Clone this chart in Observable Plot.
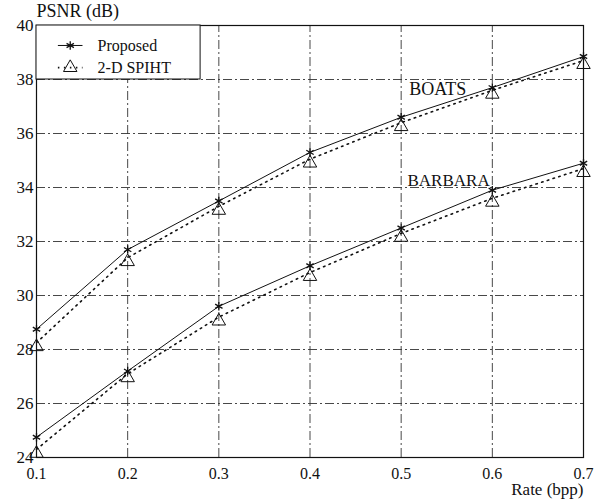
<!DOCTYPE html>
<html>
<head>
<meta charset="utf-8">
<script src="https://cdn.jsdelivr.net/npm/d3@7"></script>
<script src="https://cdn.jsdelivr.net/npm/@observablehq/plot@0.6"></script>
<style>
  html, body { margin: 0; padding: 0; background: #fff; }
  #chart svg { display: block; }
</style>
</head>
<body>
<div id="chart"></div>
<script>
const rates = [0.1, 0.2, 0.3, 0.4, 0.5, 0.6, 0.7];
const boatsProposed = [28.75, 31.7, 33.5, 35.3, 36.6, 37.7, 38.85];
const boatsSpiht = [28.25, 31.4, 33.3, 35.05, 36.4, 37.6, 38.7];
const barbaraProposed = [24.75, 27.2, 29.6, 31.1, 32.5, 33.9, 34.9];
const barbaraSpiht = [24.3, 27.1, 29.2, 30.85, 32.3, 33.6, 34.7];
const xTicks = [0.1, 0.2, 0.3, 0.4, 0.5, 0.6, 0.7];
const yTicks = [24, 26, 28, 30, 32, 34, 36, 38, 40];
const seriesNames = ["Proposed", "2-D SPIHT"];

const rows = [];
const add = (img, method, vals) => vals.forEach((v, i) => rows.push({img, method, rate: rates[i], psnr: v}));
add("BOATS", seriesNames[0], boatsProposed);
add("BOATS", seriesNames[1], boatsSpiht);
add("BARBARA", seriesNames[0], barbaraProposed);
add("BARBARA", seriesNames[1], barbaraSpiht);
const prop = rows.filter(d => d.method === seriesNames[0]);
const spiht = rows.filter(d => d.method === seriesNames[1]);

const font = "'Liberation Serif', 'Times New Roman', serif";
const grid = "9,3,2,3";

const chart = Plot.plot({
  width: 598,
  height: 499,
  marginLeft: 36,
  marginRight: 15,
  marginTop: 25,
  marginBottom: 42,
  style: {fontFamily: font, fontSize: "16px", color: "#111", background: "#fff"},
  x: {domain: [0.1, 0.7], ticks: xTicks, tickSize: 0, tickPadding: 10, tickFormat: d3.format(".1f"), label: null},
  y: {domain: [24, 40], ticks: yTicks, tickSize: 0, tickPadding: 3, label: null},
  marks: [
    // grid
    Plot.ruleX(xTicks.slice(1, -1), {stroke: "#333", strokeWidth: 0.9, strokeDasharray: grid, y1: 24, y2: 40}),
    Plot.ruleY(yTicks.slice(1, -1), {stroke: "#333", strokeWidth: 0.9, strokeDasharray: grid, x1: 0.1, x2: 0.7}),
    // frame
    Plot.frame({stroke: "#111", strokeWidth: 1.2}),
    // series lines
    Plot.line(prop, {x: "rate", y: "psnr", z: "img", stroke: "#111", strokeWidth: 1}),
    Plot.line(spiht, {x: "rate", y: "psnr", z: "img", stroke: "#111", strokeWidth: 1.6, strokeDasharray: "1.5,4.5"}),
    Plot.dot(prop, {x: "rate", y: "psnr", symbol: "asterisk", r: 4, stroke: "#111", strokeWidth: 1.3}),
    Plot.dot(spiht, {x: "rate", y: "psnr", symbol: "triangle", r: 5, dy: 4, stroke: "#111", fill: "#fff", fillOpacity: 0, strokeWidth: 1}),
    // legend box
    Plot.rect([0], {x1: 0.1, x2: 0.28, y1: 38, y2: 40, fill: "#fff", stroke: "#111", strokeWidth: 1}),
    Plot.ruleY([39.26], {x1: 0.124, x2: 0.151, stroke: "#111", strokeWidth: 1}),
    Plot.dot([0], {x: () => 0.137, y: () => 39.26, symbol: "asterisk", r: 4, stroke: "#111", strokeWidth: 1.3}),
    Plot.ruleY([38.44], {x1: 0.124, x2: 0.151, stroke: "#111", strokeWidth: 1.6, strokeDasharray: "1.5,4.5"}),
    Plot.dot([0], {x: () => 0.137, y: () => 38.44, symbol: "triangle", r: 5, stroke: "#111", fill: "none", strokeWidth: 1}),
    Plot.text(seriesNames, {x: () => 0.167, y: (d, i) => i === 0 ? 39.26 : 38.44, text: d => d, textAnchor: "start", fontSize: 16, fill: "#111"}),
    // annotations
    Plot.text(["BOATS"], {x: () => 0.54, y: () => 37.65, text: d => d, fontSize: 18, fill: "#111"}),
    Plot.text(["BARBARA"], {x: () => 0.552, y: () => 34.25, text: d => d, fontSize: 17, fill: "#111"}),
    Plot.text(["PSNR (dB)"], {x: () => 0.1, y: () => 40, text: d => d, textAnchor: "start", dy: -14, fontSize: 18, fill: "#111"}),
    Plot.text(["Rate (bpp)"], {x: () => 0.7, y: () => 24, text: d => d, textAnchor: "end", dy: 32, fontSize: 17, fill: "#111"})
  ]
});
chart.querySelectorAll("[aria-label='y-axis tick label'] text").forEach(t => t.setAttribute("font-size", "17"));
document.getElementById("chart").appendChild(chart);
</script>
</body>
</html>
